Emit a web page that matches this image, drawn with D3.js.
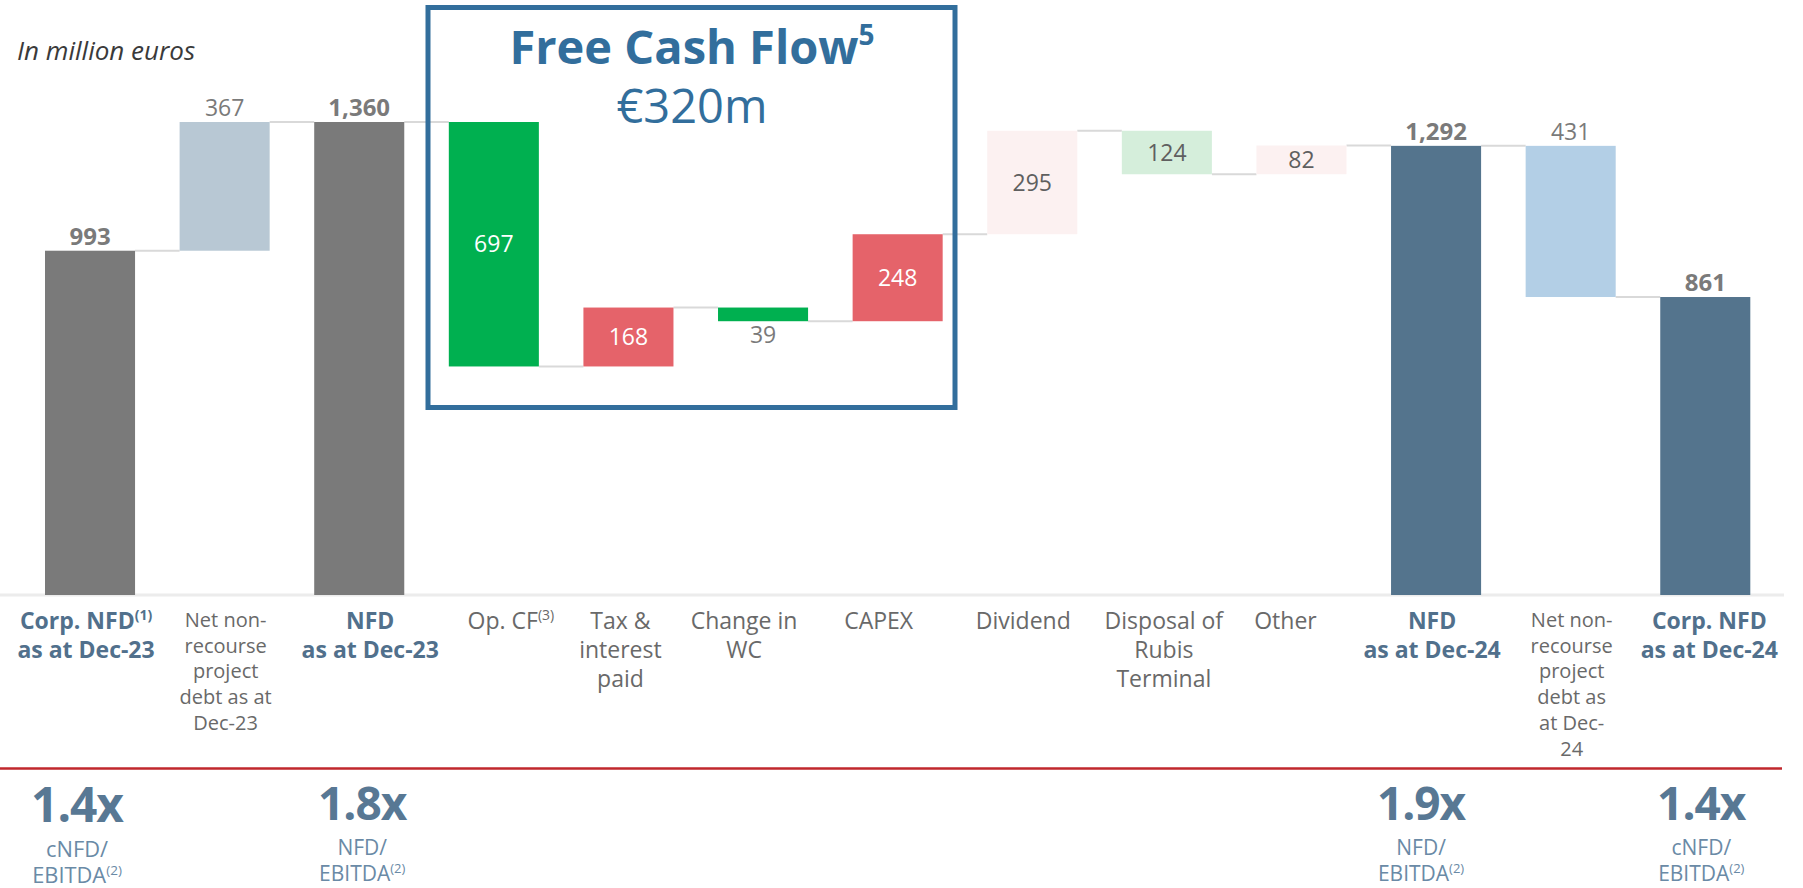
<!DOCTYPE html>
<html><head><meta charset="utf-8">
<script src="https://cdn.jsdelivr.net/npm/d3@7"></script>
<style>
body{margin:0;background:#fff;}
svg{display:block;font-family:'Open Sans','Noto Sans',sans-serif;}
</style>
</head><body>
<svg id="c" width="1803" height="888"></svg>
<script>
// ---- data ----
const categories = [
  "Corp. NFD^(1)|as at Dec-23",
  "Net non-|recourse|project|debt as at|Dec-23",
  "NFD|as at Dec-23",
  "Op. CF^(3)",
  "Tax &|interest|paid",
  "Change in|WC",
  "CAPEX",
  "Dividend",
  "Disposal of|Rubis|Terminal",
  "Other",
  "NFD|as at Dec-24",
  "Net non-|recourse|project|debt as|at Dec-|24",
  "Corp. NFD|as at Dec-24"
];
const values = [993, 367, 1360, 697, 168, 39, 248, 295, 124, 82, 1292, 431, 861];
const kinds = ["total","increase","total","decrease","increase","decrease","increase","increase","decrease","increase","total","decrease","total"];
const valueLabels = ["993","367","1,360","697","168","39","248","295","124","82","1,292","431","861"];
const ratioBars = [0, 2, 10, 12];
const ratioValues = ["1.4x","1.8x","1.9x","1.4x"];
const ratioNames = ["cNFD/","NFD/","NFD/","cNFD/"];
const ratioFoot = "EBITDA^(2)";
const unitNote = "In million euros";
const boxTitle = "Free Cash Flow^5";
const boxValue = "€320m";

// ---- styles ----
const fills = ["#7a7a7a","#b8c8d4","#7a7a7a","#00b050","#e5636a","#00b050","#e5636a","#fcf1f1","#d5eedb","#fcf1f1","#54748d","#b3cfe6","#54748d"];
const labelMode = ["boldAbove","above","boldAbove","insideWhite","insideWhite","below","insideWhite","inside","inside","inside","boldAbove","above","boldAbove"];
const catDx = [-4, 1, 11, 17, -8, -19, -19, -9, -3, -16, -4, 1, 4];
const blue = "#326e9c", slate = "#51708c", grey = "#696969";

const svg = d3.select("#c");
const axisY = 595;

const x = d3.scaleBand().domain(d3.range(categories.length)).range([45, 1750.3]).paddingInner(0.331).paddingOuter(0);
const y = d3.scaleLinear().domain([0, 1360]).range([599, 122]);

// compute waterfall
let level = 0;
const bars = values.map((v, i) => {
  let lo, hi;
  if (kinds[i] === "total") { lo = null; hi = v; level = v; }
  else if (kinds[i] === "increase") { lo = level; hi = level + v; level = hi; }
  else { hi = level; lo = level - v; level = lo; }
  return {i, v, lo, hi, end: level};
});

// axis line
svg.append("line").attr("x1", 0).attr("x2", 1784).attr("y1", axisY).attr("y2", axisY)
  .attr("stroke", "#ececec").attr("stroke-width", 3);

// connectors
svg.append("g").selectAll("line").data(bars.slice(0, -1)).join("line")
  .attr("x1", d => x(d.i) + x.bandwidth())
  .attr("x2", d => x(d.i + 1))
  .attr("y1", d => y(d.end)).attr("y2", d => y(d.end))
  .attr("stroke", "#d9d9d9").attr("stroke-width", 2);

// bars
svg.append("g").selectAll("rect").data(bars).join("rect")
  .attr("x", d => x(d.i)).attr("width", x.bandwidth())
  .attr("y", d => y(d.hi))
  .attr("height", d => (d.lo === null ? axisY : y(d.lo)) - y(d.hi))
  .attr("fill", d => fills[d.i]);

// value labels
svg.append("g").selectAll("text").data(bars).join("text")
  .attr("x", d => x(d.i) + x.bandwidth() / 2)
  .attr("y", d => {
    const m = labelMode[d.i];
    if (m === "boldAbove" || m === "above") return y(d.hi) - 6;
    if (m === "below") return y(d.lo) + 22;
    return (y(d.hi) + y(d.lo)) / 2 + 8;
  })
  .attr("text-anchor", "middle")
  .attr("font-size", d => labelMode[d.i] === "boldAbove" ? 24 : 23)
  .attr("font-weight", d => labelMode[d.i] === "boldAbove" ? 700 : 400)
  .attr("fill", d => labelMode[d.i] === "insideWhite" ? "#ffffff" : (labelMode[d.i] === "inside" ? "#5f5f5f" : "#7a7a7a"))
  .text(d => valueLabels[d.i]);

// helper: text with ^superscript
function richText(sel, str, supSize, supDy) {
  const parts = str.split("^");
  sel.append("tspan").text(parts[0]);
  if (parts[1]) sel.append("tspan").attr("font-size", supSize).attr("dy", supDy).text(parts[1]);
}

// category labels
const boldCats = new Set([0, 2, 10, 12]);
const smallCats = new Set([1, 11]);
categories.forEach((c, i) => {
  const lines = c.split("|");
  const cx = x(i) + x.bandwidth() / 2 + catDx[i];
  const isBold = boldCats.has(i), isSmall = smallCats.has(i);
  const fs = isSmall ? 20 : 23;
  const lh = isSmall ? 25.7 : 29;
  const y0 = isSmall ? 627 : 629;
  lines.forEach((ln, k) => {
    const t = svg.append("text").attr("x", cx).attr("y", y0 + k * lh)
      .attr("text-anchor", "middle").attr("font-size", fs)
      .attr("font-weight", isBold ? 700 : 400)
      .attr("fill", isBold ? slate : grey);
    richText(t, ln, 14, -9);
  });
});

// red separator
svg.append("line").attr("x1", 0).attr("x2", 1782).attr("y1", 768.5).attr("y2", 768.5)
  .attr("stroke", "#c0272d").attr("stroke-width", 2.5);

// ratios
const ratioDx = [-13, 3, -15, -4];
const ratioBase = [822, 820, 820, 820];
const ratioScale = [1.04, 1, 1, 1];
ratioBars.forEach((b, k) => {
  const cx = x(b) + x.bandwidth() / 2 + ratioDx[k];
  const by = ratioBase[k], s = ratioScale[k];
  svg.append("text").attr("x", cx).attr("y", by).attr("text-anchor", "middle")
    .attr("font-size", 46 * s).attr("font-weight", 700).attr("fill", "#587894")
    .attr("letter-spacing", -1).text(ratioValues[k]);
  svg.append("text").attr("x", cx).attr("y", by + 35).attr("text-anchor", "middle")
    .attr("font-size", 21 * s).attr("fill", "#6a8aa6").text(ratioNames[k]);
  const t = svg.append("text").attr("x", cx).attr("y", by + 61).attr("text-anchor", "middle")
    .attr("font-size", 21 * s).attr("fill", "#6a8aa6");
  richText(t, ratioFoot, 13 * s, -8);
});

// unit note
svg.append("text").attr("x", 17).attr("y", 60).attr("font-size", 26).attr("font-style", "italic")
  .attr("fill", "#3a3a3a").text(unitNote);

// Free cash flow box
svg.append("rect").attr("x", 428).attr("y", 7.5).attr("width", 527).attr("height", 400)
  .attr("fill", "none").attr("stroke", blue).attr("stroke-width", 5);
const tt = svg.append("text").attr("x", 692).attr("y", 64).attr("text-anchor", "middle")
  .attr("font-size", 47).attr("font-weight", 700).attr("fill", blue);
richText(tt, boxTitle, 28, -19);
svg.append("text").attr("x", 692).attr("y", 123).attr("text-anchor", "middle")
  .attr("font-size", 47).attr("fill", blue).text(boxValue);
</script>
</body></html>
